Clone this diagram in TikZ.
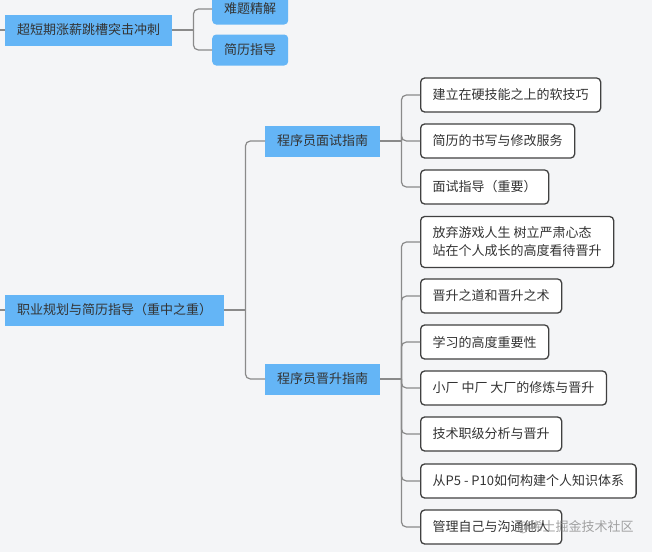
\documentclass[tikz,border=0pt]{standalone}
\usepackage{xcolor}
\usepackage{fontspec}
\setmainfont{Noto Sans CJK SC}
\usetikzlibrary{positioning}
\definecolor{mapBlue}{HTML}{64B5F6}
\definecolor{mapLine}{HTML}{8A8A8A}
\definecolor{mapText}{HTML}{333333}
\definecolor{mapBorder}{HTML}{404040}
\definecolor{mapBack}{HTML}{F4F5F7}

\begin{document}
\begin{tikzpicture}[
  x=1pt, y=-1pt,
  topic/.style={fill=mapBlue, text=mapText, font=\fontsize{13}{16}\selectfont, inner xsep=12pt, inner ysep=0pt, minimum height=31pt, anchor=west},
  sub/.style={topic, rounded corners=4pt},
  leaf/.style={draw=mapBorder, line width=1.3pt, fill=white, rounded corners=4pt, text=mapText, font=\fontsize{13}{18}\selectfont, align=left, inner xsep=12pt, inner ysep=0pt, minimum height=34pt, anchor=west},
  link/.style={draw=mapLine, line width=1.2pt, rounded corners=5pt}
]
\fill[mapBack] (0,0) rectangle (652,552);
\useasboundingbox (0,0) rectangle (652,552);

% top branch
\coordinate (edgeA) at (0,30);
\node[topic] (sprint) at (5,30) {超短期涨薪跳槽突击冲刺};
\node[sub] (hard) at (212,9) {难题精解};
\node[sub] (resume) at (212,50) {简历指导};

% main branch
\coordinate (edgeB) at (0,310);
\node[topic] (career) at (5,310) {职业规划与简历指导（重中之重）};
\node[topic] (interview) at (265,141) {程序员面试指南};
\node[topic] (promote) at (265,379) {程序员晋升指南};

\node[leaf] (soft) at (420,95) {建立在硬技能之上的软技巧};
\node[leaf] (write) at (420,141) {简历的书写与修改服务};
\node[leaf] (guide) at (420,187) {面试指导（重要）};

\node[leaf, minimum height=51pt] (mind) at (420,242) {放弃游戏人生 树立严肃心态\\站在个人成长的高度看待晋升};
\node[leaf] (way) at (420,296) {晋升之道和晋升之术};
\node[leaf] (study) at (420,342) {学习的高度重要性};
\node[leaf] (factory) at (420,388) {小厂 中厂 大厂的修炼与晋升};
\node[leaf] (level) at (420,434) {技术职级分析与晋升};
\node[leaf] (know) at (420,481) {从P5 - P10如何构建个人知识体系};
\node[leaf] (manage) at (420,527) {管理自己与沟通他人};

\node[font=\fontsize{13}{16}\selectfont, text=black!45, opacity=0.8, anchor=west, inner sep=0pt] (mark) at (517,527) {@稀土掘金技术社区};

% connectors
\draw[link] (edgeA) -- (sprint.west);
\draw[link] (sprint.east) -- ++(21,0) coordinate (sprintBus);
\foreach \kid in {hard,resume}
  \draw[link] (sprintBus) |- (\kid.west);

\draw[link] (edgeB) -- (career.west);
\draw[link] (career.east) -- ++(21,0) coordinate (careerBus);
\foreach \kid in {interview,promote}
  \draw[link] (careerBus) |- (\kid.west);

\draw[link] (interview.east) -- ++(21,0) coordinate (interviewBus);
\foreach \kid in {soft,write,guide}
  \draw[link] (interviewBus) |- (\kid.west);

\draw[link] (promote.east) -- ++(21,0) coordinate (promoteBus);
\foreach \kid in {mind,way,study,factory,level,know,manage}
  \draw[link] (promoteBus) |- (\kid.west);
\end{tikzpicture}
\end{document}
